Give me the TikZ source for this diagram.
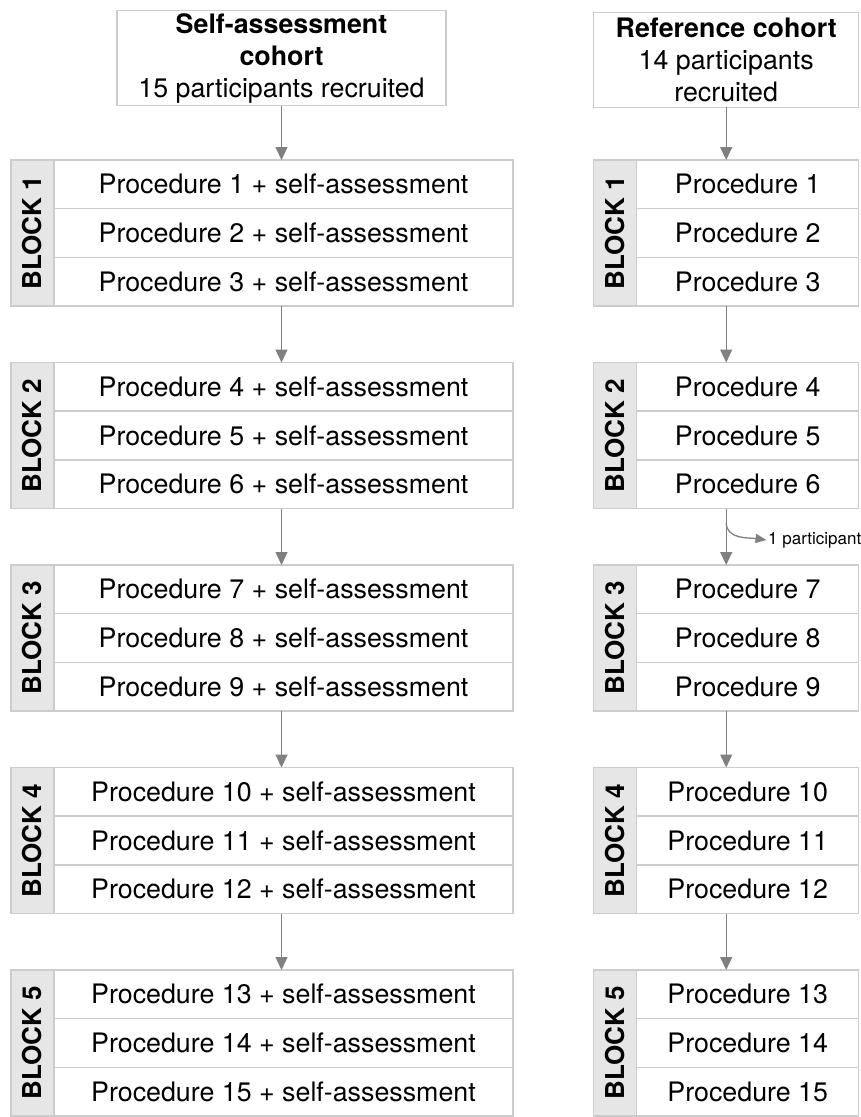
\documentclass[tikz,border=0pt]{standalone}
\usepackage{fontspec}
\setmainfont{TeX Gyre Heros}
\usetikzlibrary{arrows.meta,positioning,calc}
\definecolor{cEdge}{HTML}{CCCCCC}
\definecolor{cBlock}{HTML}{E6E6E6}
\definecolor{cArrow}{HTML}{808080}

\begin{document}
\begin{tikzpicture}[
  x=1pt,y=-1pt,
  font=\fontsize{26.8}{32}\selectfont,
  cohort/.style={draw=cEdge,line width=1.5pt,align=center,inner sep=0pt,
                 outer sep=0pt,minimum height=95pt},
  blk/.style={draw=cEdge,fill=cBlock,line width=1.5pt,inner sep=0pt,outer sep=0pt,
              minimum width=43pt,minimum height=146pt,anchor=north west,
              font=\fontsize{26}{32}\selectfont\bfseries},
  proc/.style={draw=cEdge,line width=1.5pt,inner sep=0pt,outer sep=0pt,
               minimum height=48.67pt},
  lproc/.style={proc,minimum width=459pt},
  rproc/.style={proc,minimum width=222pt},
  fl/.style={-{Triangle[length=13pt,width=12pt]},draw=cArrow,line width=1.3pt},
  dropfl/.style={-{Triangle[length=11pt,width=9pt]},draw=cArrow,line width=1.3pt},
  ]
  \useasboundingbox (0,0) rectangle (861,1117);

  \node[cohort,minimum width=329pt] (selfc) at (281.5,58)
    {\textbf{Self-assessment}\\\textbf{cohort}\\15 participants recruited};
  \node[cohort,minimum width=265pt] (refc) at (726.2,59.8)
    {\textbf{Reference cohort}\\14 participants\\recruited};

  % five blocks of three procedures, one per cohort
  \foreach \k in {1,...,5}{
    \pgfmathsetmacro{\blocky}{160+202.5*(\k-1)}
    \pgfmathtruncatemacro{\pa}{3*\k-2}
    \pgfmathtruncatemacro{\pb}{3*\k-1}
    \pgfmathtruncatemacro{\pc}{3*\k}
    \node[blk] (lb\k) at (11,\blocky) {\rotatebox{90}{BLOCK \k}};
    \node[lproc,anchor=north west] (l\k-1) at (lb\k.north east)
      {Procedure \pa{} + self-assessment};
    \node[lproc,below=0pt of l\k-1] (l\k-2) {Procedure \pb{} + self-assessment};
    \node[lproc,below=0pt of l\k-2] (l\k-3) {Procedure \pc{} + self-assessment};
    \node[blk] (rb\k) at (593.7,\blocky) {\rotatebox{90}{BLOCK \k}};
    \node[rproc,anchor=north west] (r\k-1) at (rb\k.north east) {Procedure \pa};
    \node[rproc,below=0pt of r\k-1] (r\k-2) {Procedure \pb};
    \node[rproc,below=0pt of r\k-2] (r\k-3) {Procedure \pc};
  }

  \draw[fl] (selfc.south) -- (selfc.south |- l1-1.north);
  \draw[fl] (refc.south) -- (refc.south |- r1-1.north);
  \foreach \k in {1,...,4}{
    \pgfmathtruncatemacro{\n}{\k+1}
    \draw[fl] (l\k-3.south -| selfc) -- (l\n-1.north -| selfc);
    \draw[fl] (r\k-3.south -| refc) -- (r\n-1.north -| refc);
  }

  % one participant leaves after block 2
  \coordinate (split) at ($(r2-3.south -| refc)+(0,14)$);
  \node[font=\fontsize{17}{20}\selectfont,anchor=west,inner sep=1.5pt]
    (drop) at (766.5,540) {1 participant};
  \draw[dropfl] (split) to[out=-90,in=172] (drop.west);
\end{tikzpicture}
\end{document}
